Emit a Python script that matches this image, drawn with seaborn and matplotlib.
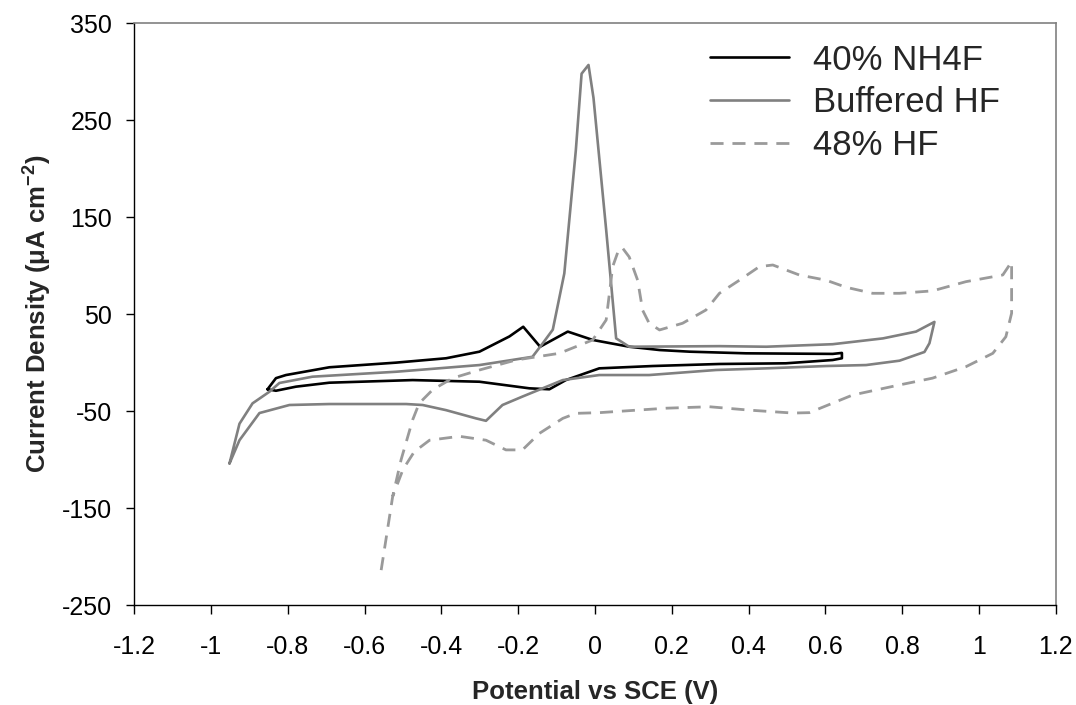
import matplotlib
matplotlib.use("Agg")
import matplotlib.pyplot as plt
import seaborn as sns
import pandas as pd

# 40% NH4F (closed CV loop)
nh4f_x = [-0.853, -0.831, -0.805, -0.692, -0.518, -0.388, -0.301, -0.223, -0.187, -0.143,
          -0.071, -0.006, 0.089, 0.168, 0.246, 0.393, 0.619, 0.643, 0.643, 0.619, 0.497,
          0.324, 0.150, 0.011, -0.076, -0.119, -0.171, -0.301, -0.475, -0.692, -0.779,
          -0.831, -0.853]
nh4f_y = [-27.5, -16, -12.8, -4.8, 0, 4.5, 11.3, 27, 37, 16.4,
          32, 23.4, 16.4, 13, 11.3, 9.6, 9, 10, 4.5, 2.7, -0.7,
          -1.4, -3.5, -5.9, -18, -27.5, -26.5, -19.7, -18, -20.7, -24.8,
          -29, -27.5]

# Buffered HF
bhf_x = [-0.952, -0.926, -0.892, -0.848, -0.822, -0.736, -0.518, -0.301, -0.163, -0.136,
         -0.110, -0.080, -0.050, -0.035, -0.017, -0.004, 0.029, 0.055, 0.089, 0.324,
         0.446, 0.619, 0.750, 0.836, 0.884, 0.871, 0.858, 0.793, 0.706, 0.602,
         0.446, 0.315, 0.141, 0.011, -0.084, -0.189, -0.241, -0.284, -0.310, -0.388,
         -0.449, -0.492, -0.692, -0.796, -0.874, -0.926, -0.952]
bhf_y = [-104, -63, -42, -30, -21, -14.5, -9.4, -2.5, 6, 20,
         34, 92, 219, 298, 307, 273, 137, 25, 16.4, 17,
         16.4, 19, 25, 32, 42, 20, 11, 2, -2.5, -3.5,
         -5.9, -7.6, -12.8, -12.8, -18, -35, -43.7, -60, -57.5, -49,
         -43.7, -42.7, -42.7, -43.7, -52, -80, -104]

# 48% HF
hf_x = [-0.557, -0.527, -0.505, -0.475, -0.458, -0.423, -0.371, -0.301, -0.206, -0.093,
        -0.006, 0.029, 0.046, 0.063, 0.072, 0.089, 0.111, 0.124, 0.141, 0.168,
        0.228, 0.289, 0.324, 0.376, 0.428, 0.463, 0.532, 0.602, 0.654, 0.723,
        0.793, 0.879, 0.966, 1.062, 1.085, 1.085, 1.070, 1.036, 0.966, 0.879,
        0.793, 0.671, 0.558, 0.515, 0.402, 0.298, 0.185, 0.011, -0.050, -0.084,
        -0.145, -0.189, -0.232, -0.284, -0.353, -0.431, -0.471, -0.500, -0.527]
hf_y = [-214, -138, -100, -59, -42, -28, -16, -7.6, 2.7, 9.6,
        23.4, 44, 99, 118, 118, 109, 85, 54, 40.6, 33.7,
        40.6, 54.3, 71.5, 85, 99, 100.7, 90.4, 85, 77.7, 71.5,
        71.5, 74, 83.5, 90.4, 104, 51, 26.7, 9.6, -4.2, -16,
        -23, -33.4, -51.6, -52, -49, -45.5, -47, -51.6, -52.3, -57.5,
        -73, -90, -90, -80, -76, -80, -92, -110, -138]

labels = ["40% NH4F", "Buffered HF", "48% HF"]
xticks = [-1.2, -1, -0.8, -0.6, -0.4, -0.2, 0, 0.2, 0.4, 0.6, 0.8, 1, 1.2]
yticks = [-250, -150, -50, 50, 150, 250, 350]

sns.set_theme(style="white")
plt.rcParams["font.family"] = ["Liberation Sans", "DejaVu Sans"]
plt.rcParams["axes.unicode_minus"] = False
plt.rcParams["mathtext.fontset"] = "custom"
plt.rcParams["mathtext.rm"] = "Liberation Sans:bold"
plt.rcParams["mathtext.it"] = "Liberation Sans:bold"
plt.rcParams["mathtext.bf"] = "Liberation Sans:bold"

fig = plt.figure(figsize=(10.76, 7.05), dpi=100)
ax = fig.add_axes([0.1248, 0.1418, 0.8564, 0.8252])

series = [
    (nh4f_x, nh4f_y, labels[0], "#000000", None, 1.9),
    (bhf_x, bhf_y, labels[1], "#808080", None, 1.9),
    (hf_x, hf_y, labels[2], "#9a9a9a", (4.7, 3.2), 2.0),
]
for xs, ys, lab, col, dash, lw in series:
    df = pd.DataFrame({"x": xs, "y": ys})
    sns.lineplot(data=df, x="x", y="y", sort=False, estimator=None, ax=ax,
                 color=col, lw=lw, label=lab)
    if dash is not None:
        ax.lines[-1].set_dashes(dash)

ax.set_xlim(-1.2, 1.2)
ax.set_ylim(-250, 350)
ax.set_xticks(xticks)
ax.set_xticklabels([f"{t:g}" for t in xticks])
ax.set_yticks(yticks)
ax.tick_params(axis="both", which="both", direction="out", labelsize=18, colors="black",
               bottom=True, left=True)
ax.tick_params(axis="x", length=6.5, width=1, pad=15)
ax.tick_params(axis="y", length=6, width=1, pad=10)
for s in ["left", "bottom"]:
    ax.spines[s].set_color("black")
    ax.spines[s].set_linewidth(1.0)
for s in ["top", "right"]:
    ax.spines[s].set_color("#808080")
    ax.spines[s].set_linewidth(1.2)

ax.set_xlabel("Potential vs SCE (V)", fontsize=18.5, fontweight="bold", labelpad=15)
ax.set_ylabel("Current Density (μA cm$^{-2}$)", fontsize=18.5, fontweight="bold", labelpad=6)

leg = ax.legend(loc="upper left", bbox_to_anchor=(0.6248, 0.965), frameon=False, fontsize=25,
                handlelength=2.28, handletextpad=0.69, labelspacing=0.28,
                borderpad=0, borderaxespad=0)

fig.savefig("out.png", dpi=100)
